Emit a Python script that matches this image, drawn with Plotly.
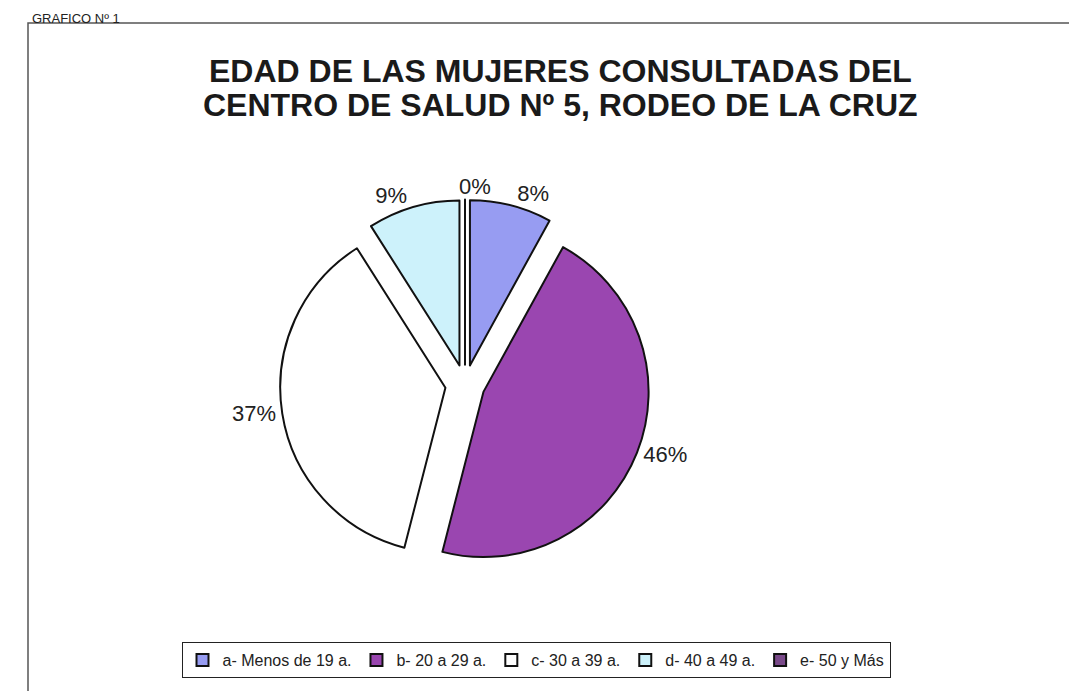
import plotly.graph_objects as go

categories = ["a- Menos de 19 a.", "b- 20 a 29 a.", "c- 30 a 39 a.", "d- 40 a 49 a.", "e- 50 y Más"]
values = [8, 46, 37, 9, 0]
colors = ["#979cf2", "#9a46b0", "#ffffff", "#cdf2fb", "#7a4a8a"]
title_lines = ["EDAD DE LAS MUJERES CONSULTADAS DEL", "CENTRO DE SALUD Nº 5, RODEO DE LA CRUZ"]

W, H = 1077, 691
FONT = "Liberation Sans, Arial, sans-serif"

# label for the zero-valued slice is drawn as a plain text (Plotly adds a leader line otherwise)
templates = ["%{percent:.0%}"] * (len(values) - 1) + [""]

fig = go.Figure(go.Pie(
    labels=categories,
    values=values,
    sort=False,
    direction="clockwise",
    rotation=0,
    pull=[0.12] * len(values),
    marker=dict(colors=colors, line=dict(color="#111111", width=2)),
    texttemplate=templates,
    textposition="outside",
    outsidetextfont=dict(family=FONT, size=22, color="#222222"),
    domain=dict(x=[272 / W, 642 / W], y=[0.185, 0.725]),
    showlegend=True,
    hoverinfo="label+percent",
))

zero_pct = f"{round(100 * values[-1] / sum(values))}%"

fig.update_layout(
    width=W, height=H,
    margin=dict(l=0, r=0, t=0, b=0),
    paper_bgcolor="white",
    plot_bgcolor="white",
    font=dict(family=FONT, color="#222222"),
    legend=dict(
        orientation="h",
        x=528 / W, xanchor="center",
        y=1 - 634 / H, yanchor="top",
        bordercolor="#222222", borderwidth=1,
        font=dict(size=16, color="#222222"),
        itemwidth=30,
        tracegroupgap=0,
    ),
    shapes=[
        dict(type="rect", xref="paper", yref="paper",
             x0=20 / W, x1=1.0, y0=0.0, y1=1 - 15 / H,
             line=dict(color="#555555", width=1.5), fillcolor="rgba(0,0,0,0)", layer="below"),
    ],
    annotations=[
        dict(text="GRAFICO Nº 1", xref="paper", yref="paper",
             x=22 / W, y=1 - 1 / H, xanchor="left", yanchor="top",
             showarrow=False, font=dict(size=13, color="#222222")),
        dict(text=f"<b>{title_lines[0]}</b>", xref="paper", yref="paper",
             x=552 / W, y=1 - 63 / H, xanchor="center", yanchor="middle",
             showarrow=False, font=dict(size=32, color="#1a1a1a", family=FONT)),
        dict(text=f"<b>{title_lines[1]}</b>", xref="paper", yref="paper",
             x=552 / W, y=1 - 97 / H, xanchor="center", yanchor="middle",
             showarrow=False, font=dict(size=32, color="#1a1a1a", family=FONT)),
        dict(text=zero_pct, xref="paper", yref="paper",
             x=467 / W, y=1 - 178 / H, xanchor="center", yanchor="middle",
             showarrow=False, font=dict(size=22, color="#222222", family=FONT)),
    ],
)

fig.write_html("out.html")
